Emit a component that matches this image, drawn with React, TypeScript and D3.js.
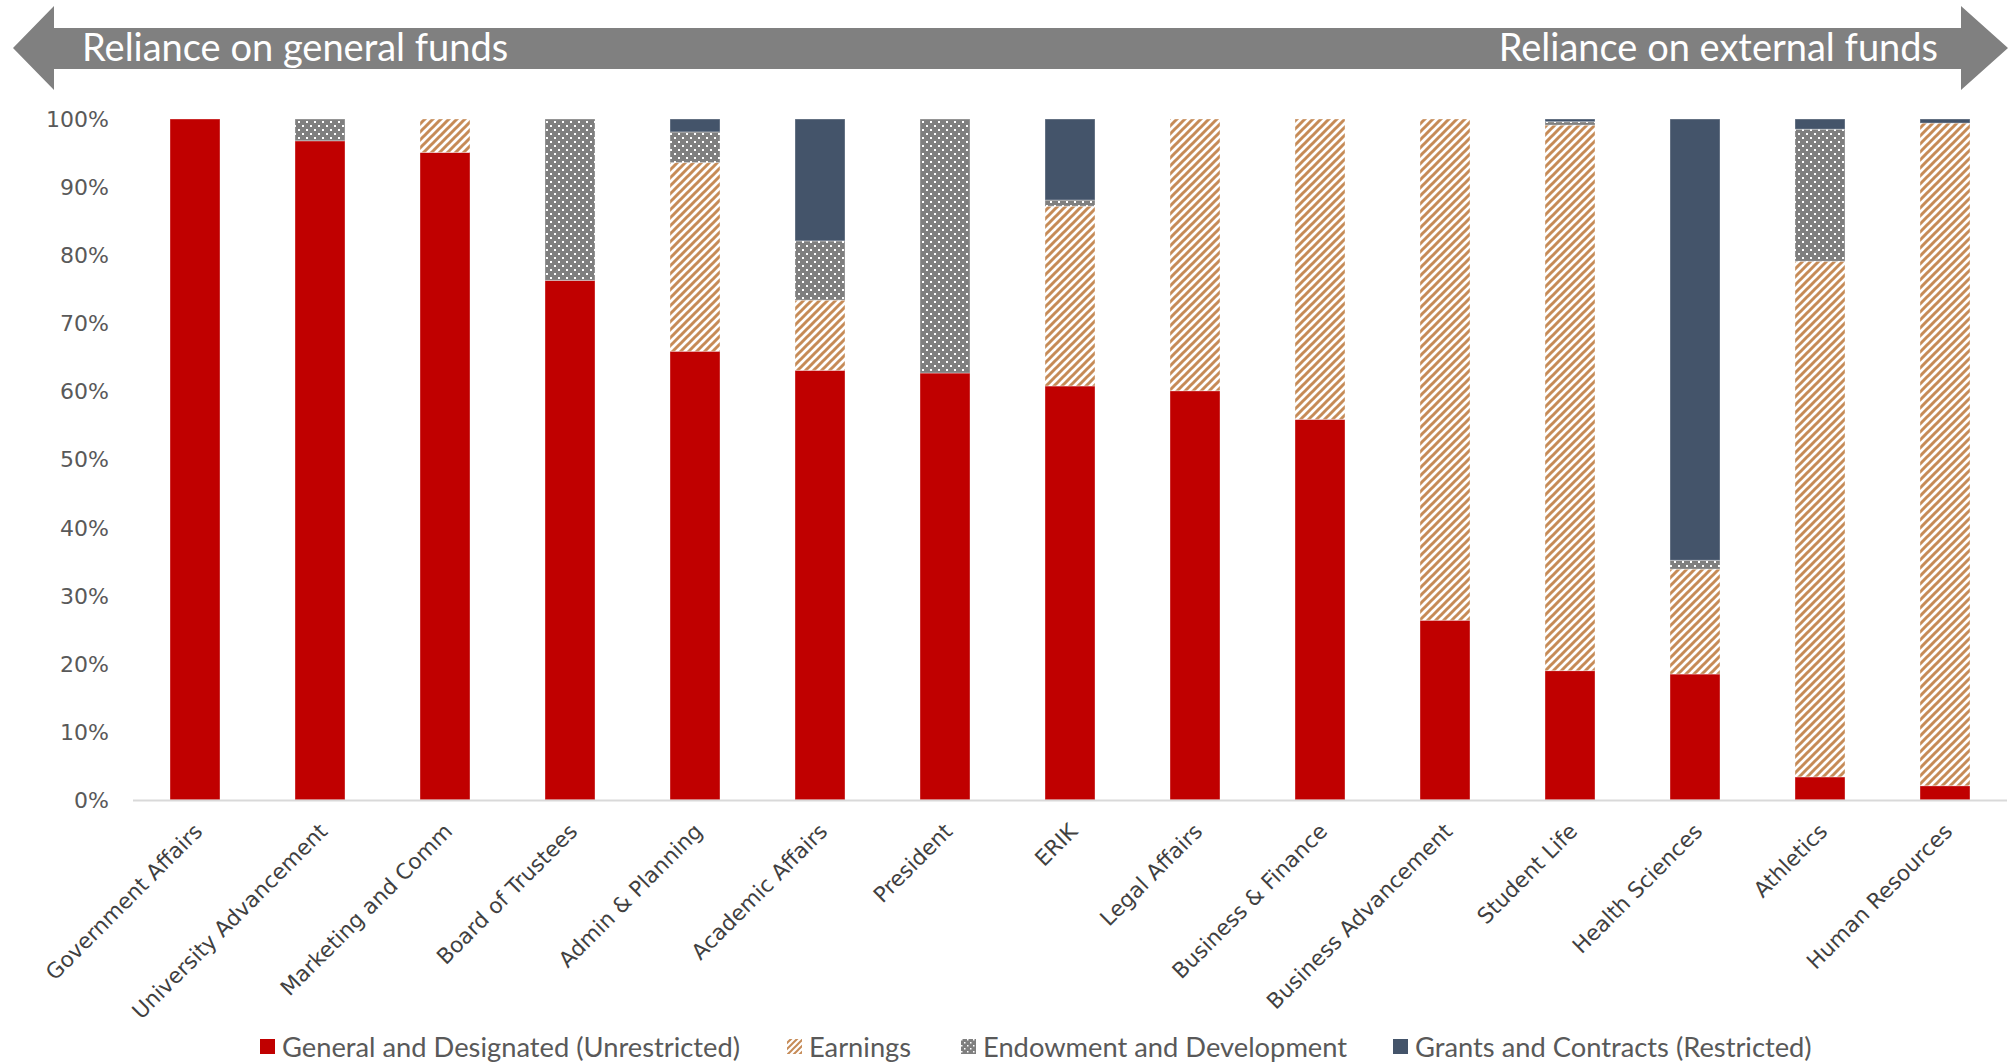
import React from "react";
import * as d3 from "d3";

const categories = [
  "Government Affairs",
  "University Advancement",
  "Marketing and Comm",
  "Board of Trustees",
  "Admin & Planning",
  "Academic Affairs",
  "President",
  "ERIK",
  "Legal Affairs",
  "Business & Finance",
  "Business Advancement",
  "Student Life",
  "Health Sciences",
  "Athletics",
  "Human Resources",
];

const general = [100, 96.8, 95.1, 76.3, 65.9, 63.1, 62.7, 60.8, 60.1, 55.9, 26.4, 19.0, 18.5, 3.4, 2.1];
const earnings = [0, 0, 4.9, 0, 27.7, 10.3, 0, 26.4, 39.9, 44.1, 73.6, 80.1, 15.4, 75.7, 97.3];
const endowment = [0, 3.2, 0, 23.7, 4.5, 8.7, 37.3, 0.9, 0, 0, 0, 0.5, 1.3, 19.4, 0];
const grants = [0, 0, 0, 0, 1.9, 17.9, 0, 11.9, 0, 0, 0, 0.4, 64.8, 1.5, 0.6];

const seriesNames = [
  "General and Designated (Unrestricted)",
  "Earnings",
  "Endowment and Development",
  "Grants and Contracts (Restricted)",
];
const yTicks = [0, 10, 20, 30, 40, 50, 60, 70, 80, 90, 100];

const W = 2010;
const H = 1063;
const RED = "#C00000";
const NAVY = "#44546A";
const GRAY = "#7F7F7F";
const TAN = "#C68B57";

const fills = [RED, "url(#hatch)", "url(#dots)", NAVY];
const legendSwatch = [RED, "url(#hatchL)", "url(#dotsL)", NAVY];

export default function App() {
  const x = d3
    .scaleBand<string>()
    .domain(categories)
    .range([132.5, 2007.5])
    .paddingInner(0.6)
    .paddingOuter(0.3);
  const y = d3.scaleLinear().domain([0, 100]).range([800, 119]);

  const rows = categories.map((c, i) => ({
    cat: c,
    s0: general[i],
    s1: earnings[i],
    s2: endowment[i],
    s3: grants[i],
  }));
  const stack = d3.stack<any>().keys(["s0", "s1", "s2", "s3"]);
  const stacked = stack(rows);

  const legendX = [260, 787, 961, 1393];
  const legendY = 1047;

  return (
    <svg
      width={W}
      height={H}
      style={{ position: "absolute", left: 0, top: 0, background: "#fff" }}
    >
      <defs>
        <pattern id="hatch" width={8} height={8} patternUnits="userSpaceOnUse">
          <rect width={8} height={8} fill="#fff" />
          <path
            d="M-2,2 L2,-2 M0,8 L8,0 M6,10 L10,6"
            stroke={TAN}
            strokeWidth={3}
          />
        </pattern>
        <pattern id="hatchL" width={6} height={6} patternUnits="userSpaceOnUse">
          <rect width={6} height={6} fill="#fff" />
          <path d="M-1.5,1.5 L1.5,-1.5 M0,6 L6,0 M4.5,7.5 L7.5,4.5" stroke={TAN} strokeWidth={2} />
        </pattern>
        <pattern id="dots" width={8} height={8} patternUnits="userSpaceOnUse">
          <rect width={8} height={8} fill={GRAY} />
          <rect x={2} y={1} width={2} height={2} fill="#fff" />
          <rect x={6} y={5} width={2} height={2} fill="#fff" />
        </pattern>
        <pattern id="dotsL" width={6} height={6} patternUnits="userSpaceOnUse">
          <rect width={6} height={6} fill={GRAY} />
          <rect x={1} y={1} width={1.5} height={1.5} fill="#fff" />
          <rect x={4} y={4} width={1.5} height={1.5} fill="#fff" />
        </pattern>
      </defs>

      {/* double arrow */}
      <path
        d={`M13,48 L54,6 L54,28 L1961,28 L1961,6 L2008,48 L1961,90 L1961,69 L54,69 L54,90 Z`}
        fill="#808080"
      />
      <text
        x={82}
        y={61}
        fontFamily="Lato, 'Open Sans', sans-serif"
        fontSize={38}
        fill="#fff"
      >
        Reliance on general funds
      </text>
      <text
        x={1938}
        y={61}
        textAnchor="end"
        fontFamily="Lato, 'Open Sans', sans-serif"
        fontSize={38}
        fill="#fff"
      >
        Reliance on external funds
      </text>

      {/* y ticks */}
      {yTicks.map((t) => (
        <text
          key={t}
          x={109}
          y={y(t)}
          dy="0.36em"
          textAnchor="end"
          fontFamily="'DejaVu Sans', sans-serif"
          fontSize={22}
          fill="#595959"
        >
          {t}%
        </text>
      ))}

      {/* bars */}
      {stacked.map((layer, si) => (
        <g key={si}>
          {layer.map((d, i) => {
            const h = y(d[0]) - y(d[1]);
            if (h <= 0) return null;
            return (
              <rect
                key={i}
                x={x(categories[i])}
                y={y(d[1])}
                width={x.bandwidth()}
                height={h}
                fill={fills[si]}
                stroke="#ffffff"
                strokeOpacity={0.35}
                strokeWidth={1}
              />
            );
          })}
        </g>
      ))}

      {/* axis line */}
      <line x1={133} x2={2007} y1={800.5} y2={800.5} stroke="#D9D9D9" strokeWidth={2} />

      {/* x labels */}
      {categories.map((c) => {
        const cx = (x(c) as number) + x.bandwidth() / 2 - 2;
        const cy = 822;
        return (
          <text
            key={c}
            transform={`translate(${cx},${cy}) rotate(-45)`}
            textAnchor="end"
            dy="0.7em"
            fontFamily="'DejaVu Sans', sans-serif"
            fontSize={21.6}
            fill="#404040"
          >
            {c}
          </text>
        );
      })}

      {/* legend */}
      {seriesNames.map((n, i) => (
        <g key={n}>
          <rect
            x={legendX[i]}
            y={legendY - 8}
            width={15}
            height={15}
            fill={legendSwatch[i]}
          />
          <text
            x={legendX[i] + 22}
            y={legendY}
            dy="0.35em"
            fontFamily="Lato, 'Open Sans', sans-serif"
            fontSize={27.3}
            fill="#595959"
          >
            {n}
          </text>
        </g>
      ))}
    </svg>
  );
}
